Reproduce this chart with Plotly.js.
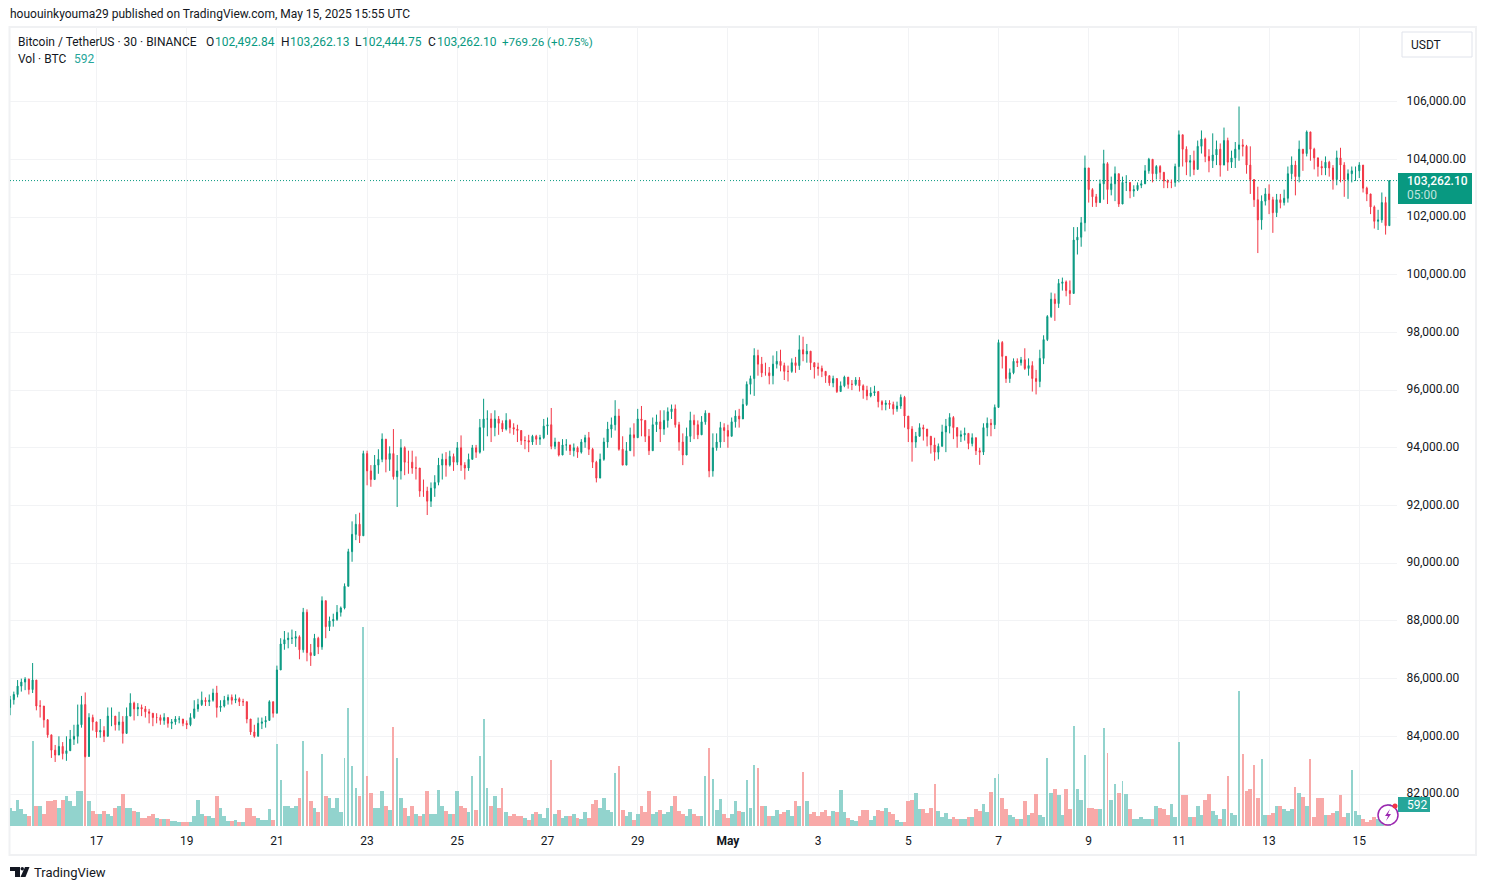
<!DOCTYPE html>
<html><head><meta charset="utf-8">
<script src="https://cdn.plot.ly/plotly-3.0.1.min.js"></script>
<style>html,body{margin:0;padding:0;background:#fff}#c{width:1486px;height:890px}</style></head>
<body><div id="c"></div>
<script>
const startTime = Date.UTC(2025,3,15,2,0);
const stepHours = 2;
const closes = [
85270,85450,85740,85880,85980,85620,85950,85050,85050,84570,84050,
83520,83350,83650,83400,83500,83900,84000,84400,85100,83300,84650,84500,
84150,84200,84000,84700,84700,84400,84500,84100,84700,85150,84950,85000,
84950,84850,84800,84650,84650,84550,84650,84450,84500,84600,84600,84450,
84400,84650,84950,85100,85250,85200,85250,85500,85000,85050,85250,85350,
85250,85300,85200,85200,84600,84150,84000,84450,84500,84550,85200,84800,
86300,87200,87350,87400,87400,87450,87000,88300,86900,86800,87400,87100,
88700,87800,88000,88050,88300,88450,89200,90400,91000,91350,90950,93800,
93200,92900,93400,93600,94300,93600,93800,93000,93200,94000,93500,93500,
93300,93300,92500,92500,92150,92600,92800,93400,93600,93400,93700,93500,
94000,93400,93300,93600,94000,93850,94700,95000,95000,94700,95000,94850,
94650,94950,94700,94650,94600,94250,94250,94200,94400,94300,94350,94750,
94800,94050,94200,93750,94100,94100,93900,94000,93850,94200,94350,93950,
93500,92950,93600,94200,94650,94800,95100,93950,93400,93900,94450,94350,
95000,94950,94400,93900,94800,94900,94650,94950,95250,95350,94800,94200,
93750,94400,94950,94800,94450,94900,95200,93200,94000,94200,94700,94600,
94400,94900,95100,95000,95500,96200,96400,97200,96900,96600,96600,96500,
96900,97000,96850,96650,96650,96950,96850,97400,97250,97350,96950,96800,
96750,96650,96500,96250,96400,95950,96150,96450,96200,96200,96350,96150,
96000,95800,95900,95950,95600,95500,95550,95500,95350,95450,95750,95100,
94650,94200,94400,94700,94650,94400,94100,93850,94050,94550,94750,95050,
94700,94400,94450,94500,94150,94350,93900,93850,94700,94850,94800,95400,
97650,97170,96400,96600,97000,96950,97050,96750,96850,96400,96300,97100,
97750,98550,99150,99000,99700,99750,99450,99350,101200,101300,101800,103700,
102950,102700,102500,103150,103850,102950,103150,103500,102450,103200,103200,102900,
102950,103100,103150,103600,104000,103500,103750,103550,103250,103200,103200,103750,
104850,104350,103900,103950,103650,104450,104700,104100,103950,104150,104350,103800,
104650,103900,104050,104350,104500,104450,103800,103300,102600,101900,102550,102800,
102600,102150,102600,102500,102650,103500,103800,103400,104350,104200,104950,104350,
104050,103750,103700,103900,103700,103300,104050,103800,103300,103500,103600,103600,
103800,103000,102800,102350,101850,101900,102500,101700,103262.10];
const highs = [
85400,85550,85950,86000,86050,86000,86540,85950,85250,85050,84600,
83950,83700,84000,83800,84000,84220,84400,85100,85400,85520,84800,84750,
84450,84600,84350,85000,85000,84650,84850,84700,85000,85490,85200,85150,
85100,85050,84950,84800,84800,84750,84800,84600,84600,84700,84700,84600,
84550,84800,85250,85300,85550,85350,85450,85650,85750,85250,85400,85450,
85450,85450,85350,85300,85200,84600,84400,84650,84650,84700,85250,85200,
86450,87400,87650,87600,87700,87650,87500,88450,88400,87200,87550,87450,
88850,88600,88150,88250,88550,88500,89300,90500,91450,91700,91750,93900,
93900,93400,93750,93950,94500,94050,94050,94650,93750,94300,94050,93900,
93900,93700,93300,92900,92650,92800,93050,93650,93800,93850,93900,93800,
94200,94430,93500,93800,94100,94100,95000,95700,95300,95200,95300,95100,
94950,95200,95000,94850,94800,94500,94400,94450,94450,94450,94450,95000,
95050,95380,94350,94200,94300,94300,94050,94150,94050,94300,94450,94550,
94000,93550,93800,94350,94900,95050,95650,95350,94400,94200,94700,94850,
95350,95450,94950,94650,95050,95150,95300,95300,95400,95500,95500,94900,
94500,94700,95250,95150,94950,95100,95300,95100,94500,94500,94900,94850,
94800,95050,95300,95350,95700,96300,96500,97450,97400,97150,96950,96800,
97200,97350,97400,96950,96850,97100,97150,97900,97850,97600,97100,96950,
96950,96850,96600,96500,96500,96300,96300,96500,96450,96350,96450,96450,
96200,96150,96100,96150,95950,95650,95650,95650,95600,95600,95850,95800,
94800,94750,94550,94850,94800,94650,94400,94350,94150,94800,95000,95200,
95100,94650,94600,94700,94450,94500,94300,94000,94850,95050,95000,95500,
97750,97700,97100,96750,97100,97100,97150,97450,97100,97000,96700,97400,
97900,98600,99380,99350,99850,99900,99800,99800,101650,101650,102000,104130,
103500,103000,102800,103300,104330,103900,103400,103750,103300,103400,103450,103000,
103100,103200,103250,103800,104050,103950,103800,103800,103450,103300,103300,103850,
105000,104850,104450,104150,104300,104650,105000,104750,104350,104900,104650,104550,
105100,104750,104300,104600,105830,104700,104500,104450,103300,103050,102750,103000,
103130,102700,102800,102800,102950,103750,104100,103950,104650,104350,105000,104700,
104400,104050,103950,104100,103950,103800,104300,104400,103900,103650,103750,103750,
103900,103800,103050,102800,102400,102250,102850,102700,103262.13];
const lows = [
84730,85100,85350,85550,85600,85450,85500,84900,84650,84300,83950,
83250,83110,83400,83200,83150,83550,83700,83750,84300,83270,83450,84200,
83950,83950,83800,84000,84350,84200,84200,83750,84100,84750,84550,84700,
84700,84650,84450,84350,84450,84400,84400,84300,84250,84400,84450,84350,
84250,84350,84600,84850,85050,85050,85050,85200,84650,84850,85000,85100,
85100,85150,85050,85050,84450,84050,83950,84150,84250,84300,84600,84650,
84800,86350,87000,87050,87200,87100,86670,86900,86600,86440,86800,86850,
87000,87400,87650,87800,88000,88150,88400,89200,90050,90800,90700,91100,
92700,92650,92900,93100,93500,93150,93200,92900,91950,92900,93050,93100,
93100,92900,92300,92300,91670,91950,92300,92700,92900,93000,93350,93200,
93400,93200,92900,93200,93650,93650,93800,93900,94400,94200,94400,94450,
94550,94600,94500,94450,94200,94100,93950,93850,94100,94100,94100,94300,
94450,93950,93950,93700,93800,93900,93750,93700,93650,93800,94000,93750,
93300,92800,92950,93550,94000,94350,94600,93900,93400,93450,93900,93700,
94400,94400,94200,93750,93900,94550,94200,94450,94700,95000,94700,93900,
93400,93750,94200,94300,94300,94500,94800,92980,93000,93900,94000,94200,
94000,94400,94700,94700,95000,95450,95850,95800,96500,96450,96500,96200,
96200,96750,96650,96350,96300,96600,96600,96700,97000,96950,96700,96400,
96500,96450,96250,96150,96100,95900,95950,96100,96050,96000,96150,95950,
95700,95650,95750,95800,95400,95300,95300,95350,95150,95250,95350,94700,
94200,93520,94000,94400,94250,94050,93800,93550,93600,94200,93850,94500,
94300,94000,94200,94250,93950,94050,93750,93410,93750,94400,94400,94650,
95400,96750,96250,96250,96550,96800,96850,96700,96500,95950,95850,96100,
96900,97700,98500,98400,98850,99450,99250,98950,99400,100700,100970,101500,
102500,102350,102350,102600,102600,102450,102750,102550,102350,102800,102900,102650,
102700,102900,103000,103150,103500,103200,103300,103300,103000,103000,103000,103050,
103200,103750,103450,103400,103450,103950,104200,103900,103550,103700,103800,103400,
103800,103600,103700,103700,103950,104100,103500,102800,102350,100750,101560,102400,
102100,101450,102000,102300,102400,102500,103300,102750,103200,103600,104100,103950,
103650,103400,103450,103450,103400,102950,103100,103200,102700,102630,103200,103250,
103350,102850,102550,102100,101600,101550,101800,101390,101700];
const volumes = [
486,405,702,459,324,270,2295,540,540,324,675,
675,702,486,702,810,675,540,945,945,2052,675,405,
324,324,405,324,270,486,540,864,486,486,405,378,
216,216,270,324,216,189,189,189,135,135,108,108,
108,108,270,702,324,270,270,216,810,486,270,135,
135,162,108,108,486,486,270,216,162,162,459,162,
2214,1242,540,540,486,540,756,2295,1485,675,486,378,
1944,810,756,486,756,378,1836,3186,1620,1026,810,5373,
1350,891,486,486,945,540,432,2673,1836,756,486,270,
540,324,270,324,945,324,324,972,540,405,324,324,
945,540,486,378,1350,432,1890,2889,1026,540,810,486,
1026,378,270,324,270,270,216,162,324,378,324,216,
486,1782,324,432,216,270,270,324,216,189,378,216,
594,702,486,756,432,378,1431,1620,432,270,378,162,
324,540,378,945,324,378,432,324,378,540,810,405,
324,270,459,324,270,270,1350,2106,1269,432,729,324,
216,324,675,405,378,1242,486,1647,1566,540,540,270,
270,432,324,378,432,270,675,540,1458,675,324,378,
270,378,432,270,405,378,972,378,216,162,135,270,
432,432,162,270,432,405,486,378,324,162,108,108,
675,702,891,459,459,351,486,1134,405,243,351,189,
243,189,189,189,243,243,459,405,594,378,918,1296,
1404,756,459,297,243,189,189,675,297,351,864,297,
243,1836,891,999,837,297,999,459,2700,999,702,1917,
486,486,459,459,2646,1971,702,1134,891,1215,864,459,
189,189,243,189,189,189,540,486,459,297,594,243,
2268,837,837,243,243,540,297,702,864,405,297,189,
459,1350,351,297,3645,1944,945,999,1647,756,1809,297,
297,351,540,540,459,405,459,1053,891,783,540,1809,
243,756,756,297,297,351,405,837,243,351,1512,405,
297,189,108,162,243,189,297,378,592];
const priceTicks = [82000,84000,86000,88000,90000,92000,94000,96000,98000,100000,102000,104000,106000];
const dateTickVals = ['2025-04-17','2025-04-19','2025-04-21','2025-04-23','2025-04-25','2025-04-27','2025-04-29','2025-05-01','2025-05-03','2025-05-05','2025-05-07','2025-05-09','2025-05-11','2025-05-13','2025-05-15'];
const dateTickText = ['17','19','21','23','25','27','29','<b>May</b>','3','5','7','9','11','13','15'];
const lastPrice = 103262.10;

const times = closes.map((_, i) => new Date(startTime + i*stepHours*3600000).toISOString().slice(0,16).replace('T',' '));
const opens = [85000].concat(closes.slice(0,-1));
const UP='#089981', DOWN='#f23645', INK='#131722';
const FONT='Roboto, sans-serif';
const W=1486,H=890,ML=10,MR=89,MT=27,MB=64;
const px=x=>(x-ML)/(W-ML-MR), py=y=>1-(y-MT)/(H-MT-MB);
const rect=(x0,y0,x1,y1,fill,line,lw,layer)=>({type:'rect',xref:'paper',yref:'paper',x0:px(x0),x1:px(x1),y0:py(y0),y1:py(y1),fillcolor:fill||'rgba(0,0,0,0)',line:{color:line||'rgba(0,0,0,0)',width:lw||0},layer:layer||'above'});
const pathPx=(pts,fill)=>({type:'path',xref:'paper',yref:'paper',path:'M'+pts.map(p=>px(p[0])+','+py(p[1])).join('L')+'Z',fillcolor:fill,line:{width:0},layer:'above'});
const txt=(x,y,t,color,size,weight)=>({xref:'paper',yref:'paper',x:px(x),y:py(y),text:t,showarrow:false,xanchor:'left',yanchor:'middle',align:'left',borderpad:0,font:{family:FONT,size:size||12,color:color||INK,weight:weight||400}});

const stepMs=stepHours*3600000;
const volTrace={type:'bar',x:times,y:volumes,yaxis:'y',width:volumes.map(v=>v>1000?stepMs*0.5:stepMs),
  marker:{color:closes.map((c,i)=>c>=opens[i]?'#92d3cd':'#f8a9a8'),line:{width:0}},hoverinfo:'skip',showlegend:false};
const candleTrace={type:'candlestick',x:times,open:opens,close:closes,
  high:highs.map((h,i)=>Math.max(h,opens[i],closes[i])),low:lows.map((l,i)=>Math.min(l,opens[i],closes[i])),
  yaxis:'y2',whiskerwidth:0,
  increasing:{line:{color:UP,width:1},fillcolor:UP},decreasing:{line:{color:DOWN,width:1},fillcolor:DOWN},
  hoverinfo:'skip',showlegend:false};

const layout={width:W,height:H,margin:{l:ML,r:MR,t:MT,b:MB,pad:0},paper_bgcolor:'#fff',plot_bgcolor:'#fff',
  showlegend:false,bargap:0,boxgap:0.6,dragmode:false,
  font:{family:FONT,size:12,color:INK},
  xaxis:{type:'date',range:['2025-04-15 01:58','2025-05-15 20:04'],tickmode:'array',tickvals:dateTickVals,ticktext:dateTickText,
    showgrid:true,gridcolor:'#f2f3f5',gridwidth:1,zeroline:false,showline:false,ticks:'outside',ticklen:4,tickcolor:'rgba(0,0,0,0)',
    tickfont:{family:FONT,size:12,color:INK},rangeslider:{visible:false},tickangle:0},
  yaxis:{range:[0,21573],visible:false,fixedrange:true},
  yaxis2:{overlaying:'y',side:'right',range:[80891,108586],tickmode:'array',tickvals:priceTicks,tickformat:',.2f',
    showgrid:true,gridcolor:'#f2f3f5',gridwidth:1,zeroline:false,showline:false,ticks:'outside',ticklen:6,tickcolor:'rgba(0,0,0,0)',
    ticklabelshift:-1,tickfont:{family:FONT,size:12,color:INK},fixedrange:true},
  shapes:[
    rect(9.5,27,1476,855,null,'#f0f1f3',2,'below'),
    {type:'line',xref:'x',yref:'y2',x0:'2025-04-15 01:58',x1:'2025-05-15 20:04',y0:lastPrice,y1:lastPrice,line:{color:UP,width:1,dash:'1px,2px'},layer:'below'},
    rect(1402,32,1472,57,'#fff','#e0e3eb',1),
    rect(1398,173,1472,204,UP,null,0),
    rect(1398,797,1430,812,'#26a69a',null,0),
    {type:'circle',xref:'paper',yref:'paper',x0:px(1378),x1:px(1398),y0:py(805),y1:py(825),fillcolor:'#fff',line:{color:'#9c27b0',width:1.5},layer:'above'},
    pathPx([[1390,809],[1385,816],[1388,816],[1386,821],[1391,814],[1388,814]],'#9c27b0'),
    {type:'circle',xref:'paper',yref:'paper',x0:px(1392.5),x1:px(1397.5),y0:py(803.5),y1:py(808.5),fillcolor:'#f23645',line:{width:0},layer:'above'},
    pathPx([[10,867],[20,867],[20,877],[15,877],[15,871],[10,871]],'#131722'),
    {type:'circle',xref:'paper',yref:'paper',x0:px(20.5),x1:px(24),y0:py(867),y1:py(870.5),fillcolor:'#131722',line:{width:0},layer:'above'},
    pathPx([[25,867],[29.5,867],[25.5,877],[20.5,877]],'#131722')
  ],
  annotations:[
    txt(9,14.5,'hououinkyouma29 published on TradingView.com, May 15, 2025 15:55 UTC'),
    txt(17,41.5,'Bitcoin / TetherUS · 30 · BINANCE'),
    txt(205,41.5,'O'),txt(213.5,41.5,'102,492.84',UP),
    txt(280,41.5,'H'),txt(288.5,41.5,'103,262.13',UP),
    txt(354,41.5,'L'),txt(360.5,41.5,'102,444.75',UP),
    txt(427,41.5,'C'),txt(435.5,41.5,'103,262.10',UP),
    txt(500.5,41.5,'+769.26 (+0.75%)',UP,11.6),
    txt(17,58.5,'Vol · BTC'),txt(73,58.5,'592','#26a69a'),
    txt(1410,44.5,'USDT'),
    txt(1405.5,181,'103,262.10','#fff',12,500),
    txt(1406,195,'05:00','rgba(255,255,255,0.75)',12),
    txt(1406,804.5,'592','#fff',12),
    txt(32.5,872.5,'TradingView',INK,13)
  ]
};
Plotly.newPlot('c',[volTrace,candleTrace],layout,{staticPlot:true,displayModeBar:false});
</script></body></html>
